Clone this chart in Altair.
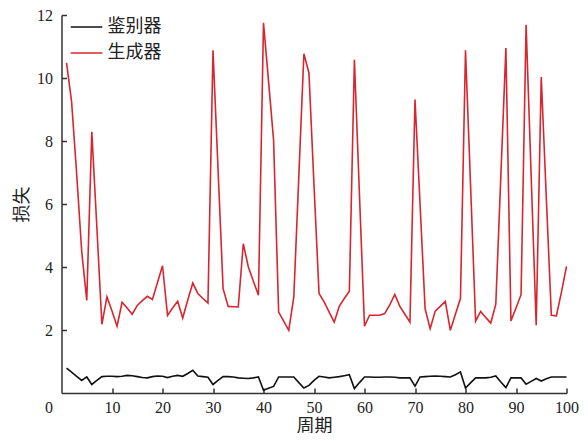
import altair as alt
import pandas as pd

epochs = list(range(1, 101))

gen_loss = [
    10.48, 9.24, 6.97, 4.50, 2.94, 8.29, 5.27, 2.18, 3.05, 2.60,
    2.12, 2.88, 2.70, 2.50, 2.78, 2.93, 3.07, 2.97, 3.50, 4.04,
    2.46, 2.70, 2.91, 2.38, 2.95, 3.49, 3.16, 3.00, 2.86, 10.88,
    7.10, 3.31, 2.75, 2.74, 2.73, 4.74, 4.00, 3.55, 3.10, 11.75,
    9.90, 8.02, 2.57, 2.28, 1.99, 3.05, 6.90, 10.77, 10.16, 6.60,
    3.16, 2.89, 2.57, 2.25, 2.75, 3.00, 3.23, 10.58, 6.30, 2.12,
    2.47, 2.47, 2.47, 2.52, 2.80, 3.13, 2.75, 2.50, 2.25, 9.32,
    6.00, 2.68, 2.04, 2.60, 2.75, 2.91, 1.99, 2.50, 3.00, 10.88,
    6.60, 2.28, 2.59, 2.40, 2.22, 2.82, 6.90, 10.95, 2.29, 2.70,
    3.12, 11.69, 6.90, 2.15, 10.03, 6.20, 2.47, 2.45, 3.20, 4.02,
]

disc_loss = [
    0.79, 0.66, 0.53, 0.40, 0.51, 0.27, 0.40, 0.52, 0.53, 0.53,
    0.52, 0.53, 0.56, 0.55, 0.52, 0.49, 0.48, 0.52, 0.54, 0.53,
    0.49, 0.53, 0.56, 0.53, 0.62, 0.72, 0.54, 0.52, 0.50, 0.27,
    0.40, 0.52, 0.52, 0.51, 0.48, 0.47, 0.46, 0.48, 0.51, 0.09,
    0.15, 0.21, 0.51, 0.51, 0.51, 0.51, 0.33, 0.16, 0.24, 0.40,
    0.53, 0.51, 0.48, 0.50, 0.52, 0.55, 0.58, 0.14, 0.33, 0.51,
    0.51, 0.50, 0.50, 0.51, 0.51, 0.50, 0.48, 0.48, 0.48, 0.22,
    0.51, 0.52, 0.53, 0.54, 0.53, 0.52, 0.51, 0.58, 0.67, 0.16,
    0.32, 0.48, 0.48, 0.48, 0.50, 0.54, 0.35, 0.17, 0.48, 0.48,
    0.48, 0.28, 0.37, 0.46, 0.38, 0.45, 0.51, 0.51, 0.51, 0.51,
]

series_names = ["鉴别器", "生成器"]
series_colors = ["#111111", "#d7262f"]
x_ticks = [0, 10, 20, 30, 40, 50, 60, 70, 80, 90, 100]
y_ticks = [2, 4, 6, 8, 10, 12]
x_title = "周期"
y_title = "损失"

df = pd.DataFrame({
    "epoch": epochs + epochs,
    "loss": disc_loss + gen_loss,
    "series": [series_names[0]] * len(epochs) + [series_names[1]] * len(epochs),
})

W = 505
H = 378
AX = "#333333"
NUM_FONT = "Liberation Serif, Times New Roman, serif"
CJK_FONT = "Noto Sans CJK SC"

x_scale = alt.Scale(domain=[0, 100], nice=False, zero=False)
y_scale = alt.Scale(domain=[0, 12], nice=False)

lines = alt.Chart(df).mark_line(strokeWidth=1.6).encode(
    x=alt.X("epoch:Q", scale=x_scale, axis=alt.Axis(
        orient="bottom", values=x_ticks, ticks=False, tickSize=0,
        domain=True, domainColor=AX, domainWidth=1.5, grid=False,
        labelFont=NUM_FONT, labelFontSize=16, labelColor="#222222",
        labelPadding=6, labelFlush=False,
        labelOffset={"condition": {"test": "datum.value === 0", "value": -13}, "value": 0},
        title=x_title, titleFont=CJK_FONT, titleFontSize=18,
        titleFontWeight="normal", titleColor="#222222", titlePadding=2)),
    y=alt.Y("loss:Q", scale=y_scale, axis=alt.Axis(
        orient="left", values=y_ticks, ticks=False, tickSize=0,
        domain=True, domainColor=AX, domainWidth=1.5, grid=False,
        labelFont=NUM_FONT, labelFontSize=16, labelColor="#222222",
        labelPadding=9, labelFlush=False,
        title=y_title, titleFont=CJK_FONT, titleFontSize=18,
        titleFontWeight="normal", titleColor="#222222", titlePadding=5)),
    color=alt.Color("series:N", scale=alt.Scale(domain=series_names, range=series_colors),
                    legend=alt.Legend(
                        orient="none", legendX=8, legendY=-5, title=None,
                        symbolType="stroke", symbolSize=1000, symbolStrokeWidth=1.6,
                        labelFont=CJK_FONT, labelFontSize=18, labelColor="#222222",
                        rowPadding=-8, labelOffset=4, padding=0)),
)

tick_layer = alt.Chart(df).mark_line(opacity=0).encode(
    x=alt.X("epoch:Q", scale=x_scale, axis=alt.Axis(
        orient="top", offset=-H, values=x_ticks[1:], labels=False, domain=False,
        ticks=True, tickSize=5, tickColor=AX, tickWidth=1.5, grid=False, title=None)),
    y=alt.Y("loss:Q", scale=y_scale, axis=alt.Axis(
        orient="right", offset=-W, values=y_ticks, labels=False, domain=False,
        ticks=True, tickSize=5, tickColor=AX, tickWidth=1.5, grid=False, title=None)),
    detail="series:N",
)

chart = alt.layer(lines, tick_layer).resolve_axis(
    x="independent", y="independent"
).properties(
    width=W, height=H,
    autosize=alt.AutoSizeParams(type="none"),
    padding={"left": 53.5, "top": 7, "right": 13.5, "bottom": 40},
).configure_view(stroke=None)

chart.save("out.html", embed_options={"renderer": "svg", "actions": False})
